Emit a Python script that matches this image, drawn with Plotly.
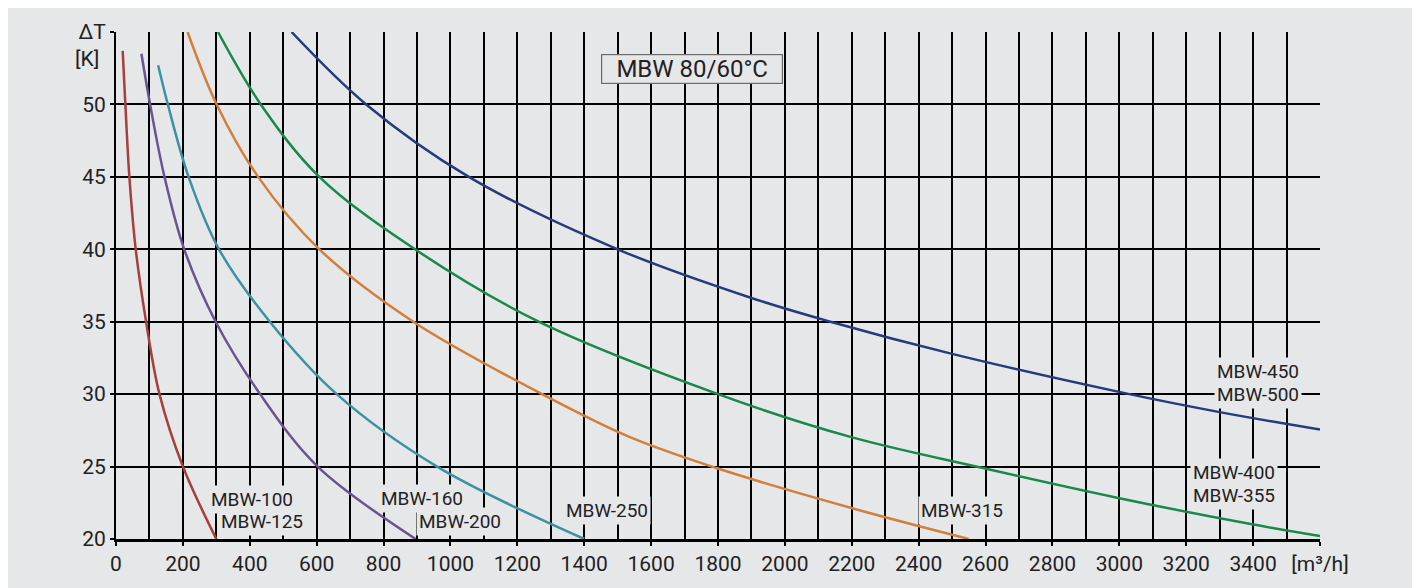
import plotly.graph_objects as go

# ---------------- data ----------------
series_names = ["MBW-100/125", "MBW-160/200", "MBW-250", "MBW-315", "MBW-355/400", "MBW-450/500"]

flow_100 = [20, 28, 40, 59, 90, 130, 200, 300]
dT_100 = [53.7, 50, 45, 40, 35, 30, 25, 20]

flow_160 = [76, 102, 145, 204, 298, 431, 603, 896]
dT_160 = [53.5, 50, 45, 40, 35, 30, 25, 20]

flow_250 = [126, 155, 217, 308, 460, 660, 960, 1400]
dT_250 = [52.7, 50, 45, 40, 35, 30, 25, 20]

flow_315 = [214, 301, 425, 608, 889, 1274, 1535, 1795, 2196, 2550]
dT_315 = [55, 50, 45, 40, 35, 30, 27.05, 24.9, 22.16, 20]

flow_400 = [305, 433, 608, 894, 1264, 1800, 2196, 2592, 2993, 3393, 3600]
dT_400 = [55, 50, 45, 40, 35, 30, 27.05, 24.9, 22.85, 21.03, 20.2]

flow_500 = [525, 748, 1055, 1500, 1900, 2136, 2500, 3030, 3300, 3600]
dT_500 = [55, 50, 45, 40, 36.64, 35, 32.78, 30, 28.76, 27.55]

colors = ["#a5403d", "#6a5391", "#3a92a4", "#d27f3c", "#19894b", "#243c7c"]

x_tickvals = list(range(0, 3601, 200))
x_ticktext = [str(v) for v in range(0, 3401, 200)] + ["[m³/h]"]
y_tickvals = [20, 25, 30, 35, 40, 45, 50, 55]
y_ticktext = ["20", "25", "30", "35", "40", "45", "50", "ΔT"]

# curve labels: text, x, y
label_texts = ["MBW-100", "MBW-125", "MBW-160", "MBW-200", "MBW-250", "MBW-315",
               "MBW-400", "MBW-355", "MBW-450", "MBW-500"]
label_x = [407, 437, 916, 1028, 1468, 2529, 3344, 3344, 3415, 3415]
label_y = [22.76, 21.19, 22.77, 21.2, 21.96, 21.94, 24.58, 23.0, 31.54, 30.0]

title_text = "MBW 80/60°C"
title_x, title_y = 1721, 52.42

BG = "#e6e7e9"
FONT = "Roboto, 'Noto Sans', sans-serif"

fig = go.Figure()
all_x = [flow_100, flow_160, flow_250, flow_315, flow_400, flow_500]
all_y = [dT_100, dT_160, dT_250, dT_315, dT_400, dT_500]
for name, xs, ys, c in zip(series_names, all_x, all_y, colors):
    fig.add_trace(go.Scatter(x=xs, y=ys, mode="lines", name=name,
                             line=dict(color=c, width=2.5, shape="spline", smoothing=1.0),
                             showlegend=False, hoverinfo="x+y+name"))

for t, lx, ly in zip(label_texts, label_x, label_y):
    fig.add_annotation(x=lx, y=ly, text=t, showarrow=False, xref="x", yref="y",
                       font=dict(family=FONT, size=19, color="#222222"),
                       bgcolor=BG, borderpad=2)

fig.add_annotation(x=title_x, y=title_y, text=title_text, showarrow=False,
                   font=dict(family=FONT, size=24, color="#222222"),
                   bgcolor=BG, bordercolor="#6b6b6b", borderwidth=1.2,
                   width=178, height=26, borderpad=1)

fig.add_annotation(xref="paper", yref="y", x=0, y=53.15, text="[K]", showarrow=False,
                   xanchor="right", xshift=-15,
                   font=dict(family=FONT, size=21, color="#222222"))

# grey panel
fig.add_shape(type="rect", xref="paper", yref="paper",
              x0=-0.12, x1=1.0845, y0=-0.12, y1=1.12,
              fillcolor=BG, line=dict(width=0), layer="below")

fig.update_xaxes(range=[0, 3600], tickmode="array", tickvals=x_tickvals, ticktext=x_ticktext,
                 showgrid=True, gridcolor="black", gridwidth=1.6,
                 minor=dict(tickmode="linear", tick0=0, dtick=100, showgrid=True,
                            gridcolor="black", gridwidth=1.6, ticks=""),
                 ticks="outside", ticklen=4, tickwidth=1.5, tickcolor="black",
                 showline=True, linecolor="black", linewidth=2.5, zeroline=False,
                 tickfont=dict(family=FONT, size=21, color="#222222"))
fig.update_yaxes(range=[20, 55], tickmode="array", tickvals=y_tickvals, ticktext=y_ticktext,
                 showgrid=True, gridcolor="black", gridwidth=1.8,
                 ticks="outside", ticklen=4, tickwidth=1.5, tickcolor="black",
                 showline=True, linecolor="black", linewidth=2, zeroline=False,
                 tickfont=dict(family=FONT, size=21, color="#222222"))

fig.update_layout(width=1412, height=580,
                  margin=dict(l=108, r=100, t=22, b=36),
                  paper_bgcolor="white", plot_bgcolor="rgba(0,0,0,0)",
                  showlegend=False)

fig.write_html("out.html")
